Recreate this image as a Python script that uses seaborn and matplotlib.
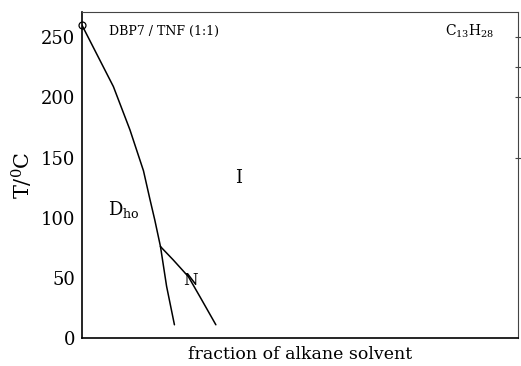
import matplotlib
matplotlib.use("Agg")
import matplotlib.pyplot as plt
import seaborn as sns
import pandas as pd

# Data (x = fraction of alkane solvent, T in °C)
dho_i_x = [0.0, 0.072, 0.110, 0.141, 0.156, 0.167, 0.180]
dho_i_T = [260, 209, 173, 139, 115, 98, 76]
dho_n_x = [0.180, 0.194, 0.212]
dho_n_T = [76, 43, 11]
n_i_x = [0.180, 0.209, 0.244, 0.271, 0.307]
n_i_T = [76, 65, 51, 34, 11]
yticks = [0, 50, 100, 150, 200, 250]
right_ticks = [150, 200, 225, 250]

sns.set_theme(style="white")
plt.rcParams["font.family"] = ["DejaVu Serif"]
plt.rcParams["mathtext.fontset"] = "dejavuserif"
plt.rcParams["text.color"] = "black"
plt.rcParams["axes.labelcolor"] = "black"
plt.rcParams["ytick.color"] = "black"
plt.rcParams["xtick.color"] = "black"

fig = plt.figure(figsize=(5.21, 3.66), dpi=100)
ax = fig.add_axes([82/521, 28/366, 436/521, 326/366])

for xs, ts in [(dho_i_x, dho_i_T), (dho_n_x, dho_n_T), (n_i_x, n_i_T)]:
    df = pd.DataFrame({"x": xs, "T": ts})
    sns.lineplot(data=df, x="x", y="T", ax=ax, color="black", lw=1.1, sort=False)

ax.plot([dho_i_x[0]], [dho_i_T[0]], marker="o", mfc="none", mec="black", ms=5, mew=0.9,
        clip_on=False)

ax.set_xlim(0, 1)
ax.set_ylim(0, 271)
ax.set_yticks(yticks)
ax.set_yticklabels([str(v) for v in yticks], fontsize=13)
ax.set_xticks([])
ax.tick_params(axis="y", which="both", left=True, length=0, pad=5)
ax.set_xlabel("fraction of alkane solvent", fontsize=12.5, labelpad=6)
ax.set_ylabel(r"T/$^0$C", fontsize=15, labelpad=4)

ax2 = ax.twinx()
ax2.set_ylim(0, 271)
ax2.set_yticks(right_ticks)
ax2.set_yticklabels([])
ax2.tick_params(axis="y", right=True, length=4, direction="inout", width=0.8, color="#444444")
for s in ax2.spines.values():
    s.set_visible(False)

for side in ["left", "bottom"]:
    ax.spines[side].set_color("black")
    ax.spines[side].set_linewidth(1.2)
for side in ["top", "right"]:
    ax.spines[side].set_color("#444444")
    ax.spines[side].set_linewidth(0.8)

ax.text(0.063, 255, "DBP7 / TNF (1:1)", fontsize=9, ha="left", va="center")
ax.text(0.832, 255, r"C$_{13}$H$_{28}$", fontsize=10, ha="left", va="center")
ax.text(0.358, 133, "I", fontsize=13, ha="center", va="center")
ax.text(0.06, 107, r"D$_{\mathrm{ho}}$", fontsize=13, ha="left", va="center")
ax.text(0.248, 48, "N", fontsize=12, ha="center", va="center")

fig.savefig("out.png", dpi=100)
